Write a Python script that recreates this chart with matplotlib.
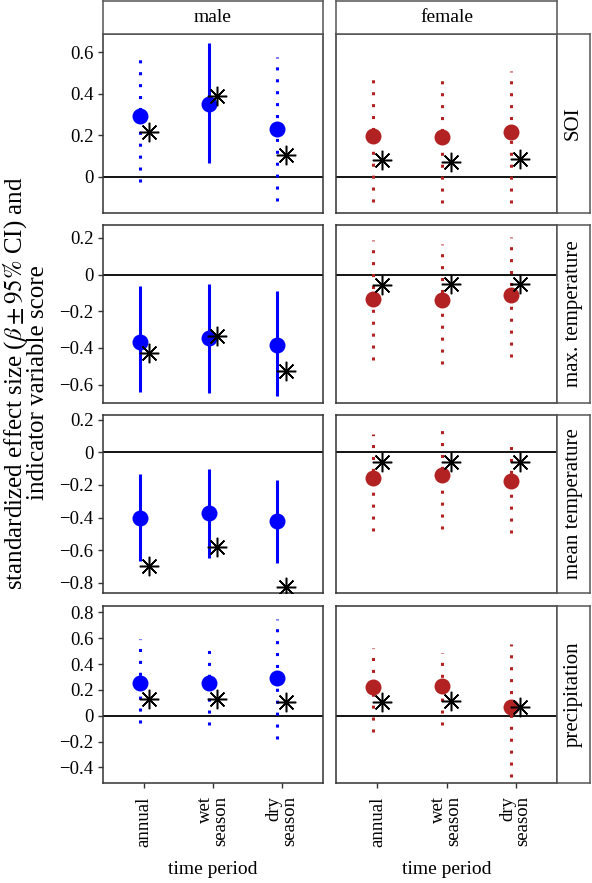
import matplotlib
matplotlib.use('Agg')
import matplotlib.pyplot as plt
from matplotlib.ticker import FuncFormatter
import numpy as np

plt.rcParams['font.family'] = ['Liberation Serif', 'DejaVu Serif']
plt.rcParams['mathtext.fontset'] = 'stix'

W, H = 592, 883

periods = ['annual', 'wet\nseason', 'dry\nseason']
sexes = ['male', 'female']
variables = ['SOI', 'max. temperature', 'mean temperature', 'precipitation']

male_beta = [[0.295, 0.35, 0.229], [-0.365, -0.344, -0.383], [-0.401, -0.374, -0.421], [0.251, 0.251, 0.295]]
male_lo = [[-0.024, 0.066, -0.115], [-0.638, -0.647, -0.66], [-0.667, -0.647, -0.681], [-0.054, -0.072, -0.18]]
male_hi = [[0.60, 0.646, 0.575], [-0.064, -0.049, -0.09], [-0.135, -0.102, -0.17], [0.595, 0.574, 0.747]]
male_score = [[0.218, 0.39, 0.106], [-0.426, -0.335, -0.525], [-0.696, -0.579, -0.824], [0.127, 0.127, 0.104]]
male_sig = [[0, 1, 0], [1, 1, 1], [1, 1, 1], [0, 0, 0]]

female_beta = [[0.199, 0.19, 0.218], [-0.135, -0.14, -0.113], [-0.16, -0.139, -0.176], [0.225, 0.233, 0.07]]
female_lo = [[-0.119, -0.127, -0.124], [-0.468, -0.486, -0.45], [-0.483, -0.47, -0.497], [-0.129, -0.072, -0.47]]
female_hi = [[0.511, 0.505, 0.511], [0.187, 0.169, 0.205], [0.11, 0.178, 0.09], [0.522, 0.488, 0.556]]
female_score = [[0.08, 0.072, 0.085], [-0.055, -0.053, -0.053], [-0.058, -0.058, -0.061], [0.104, 0.114, 0.065]]
female_sig = [[0, 0, 0], [0, 0, 0], [0, 0, 0], [0, 0, 0]]

row_ylim = [(-0.173, 0.687), (-0.70, 0.27), (-0.863, 0.229), (-0.52, 0.85)]
row_ticks = [[0, 0.2, 0.4, 0.6], [-0.6, -0.4, -0.2, 0, 0.2],
             [-0.8, -0.6, -0.4, -0.2, 0, 0.2], [-0.4, -0.2, 0, 0.2, 0.4, 0.6, 0.8]]

colors = {'male': '#0000ff', 'female': '#b22222'}
data = {
    'male': (male_beta, male_lo, male_hi, male_score, male_sig),
    'female': (female_beta, female_lo, female_hi, female_score, female_sig),
}

col_x = [(103, 323), (336, 557)]
row_y = [(34, 213), (225, 403), (415, 593), (606, 783)]
strip_top = (1, 34)
strip_right = (557, 590)
edge = '#333333'


def rect(x0, y0, x1, y1):
    return [x0 / W, 1 - y1 / H, (x1 - x0) / W, (y1 - y0) / H]


def fmt(v, pos):
    if abs(v) < 1e-9:
        return '0'
    return f'{v:.1f}'.replace('-', '\u2212')


fig = plt.figure(figsize=(W / 100, H / 100), dpi=100)
x = np.arange(1, 4)
dodge = 0.065

for j, sex in enumerate(sexes):
    beta, lo, hi, score, sig = data[sex]
    c = colors[sex]
    for i, var in enumerate(variables):
        ax = fig.add_axes(rect(col_x[j][0], row_y[i][0], col_x[j][1], row_y[i][1]))
        ax.axhline(0, color='black', lw=1.3, zorder=1)
        for k in range(3):
            ls = '-' if sig[i][k] else (0, (1, 2.9))
            ax.plot([x[k] - dodge, x[k] - dodge], [lo[i][k], hi[i][k]], color=c, lw=2.2,
                    ls=ls, solid_capstyle='butt', dash_capstyle='butt', zorder=2)
        ax.plot(x - dodge, beta[i], 'o', color=c, ms=11.5, mec='none', zorder=3)
        ax.plot(x + dodge, score[i], marker=(8, 2, 0), ls='none', color='black', ms=14,
                mew=1.1, zorder=4)
        ax.set_xlim(0.4, 3.6)
        ax.set_ylim(*row_ylim[i])
        ax.set_yticks(row_ticks[i])
        ax.yaxis.set_major_formatter(FuncFormatter(fmt))
        ax.set_xticks(x)
        for s in ax.spines.values():
            s.set_color(edge)
            s.set_linewidth(1.1)
        ax.tick_params(length=3.5, width=1, color=edge, labelsize=13.5, pad=3.5)
        if j == 1:
            ax.tick_params(axis='y', left=False, labelleft=False)
        if i < 3:
            ax.tick_params(axis='x', bottom=False, labelbottom=False)
        else:
            ax.set_xticklabels(periods, rotation=90, va='top', ha='center',
                               multialignment='right', linespacing=0.85)
            ax.tick_params(axis='x', pad=6)

        if j == 1:
            sax = fig.add_axes(rect(strip_right[0], row_y[i][0], strip_right[1], row_y[i][1]))
            sax.set_xticks([])
            sax.set_yticks([])
            for s in sax.spines.values():
                s.set_color('#555555')
                s.set_linewidth(1.1)
            sax.text(0.5, 0.5, var, rotation=90, ha='center', va='center',
                     fontsize=15, transform=sax.transAxes)

    tax = fig.add_axes(rect(col_x[j][0], strip_top[0], col_x[j][1], strip_top[1]))
    tax.set_xticks([])
    tax.set_yticks([])
    for s in tax.spines.values():
        s.set_color('#555555')
        s.set_linewidth(1.1)
    tax.text(0.5, 0.5, sex, ha='center', va='center', fontsize=14, transform=tax.transAxes)

    fig.text((col_x[j][0] + col_x[j][1]) / 2 / W, 1 - 870 / H, 'time period',
             ha='center', va='center', fontsize=14)

fig.text(25 / W, 1 - 383 / H,
         'standardized effect size ($\\beta \\pm 95\\%$ CI) and\nindicator variable score',
         rotation=90, ha='center', va='center', fontsize=18, linespacing=0.85)

fig.savefig('out.png', dpi=100)
